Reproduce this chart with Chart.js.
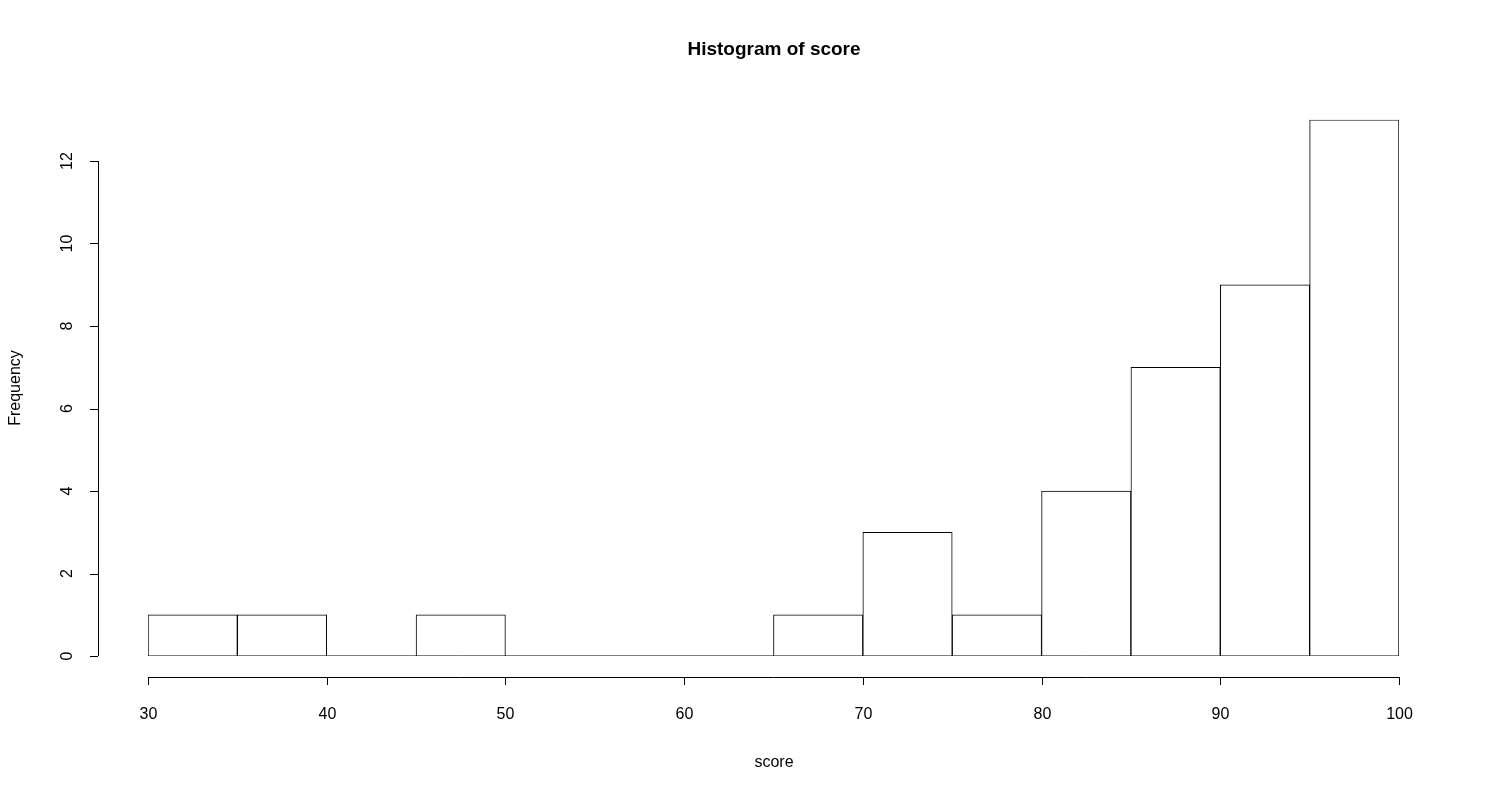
<!DOCTYPE html>
<html>
<head>
<meta charset="utf-8">
<script src="https://cdn.jsdelivr.net/npm/chart.js@4/dist/chart.umd.min.js"></script>
<style>
  body { margin: 0; background: #fff; }
</style>
</head>
<body>
<canvas id="hist" width="1500" height="800"></canvas>
<script>
// histogram data (breaks of 5)
const binStarts = [30, 35, 40, 45, 50, 55, 60, 65, 70, 75, 80, 85, 90, 95];
const counts = [1, 1, 0, 1, 0, 0, 0, 1, 3, 1, 4, 7, 9, 13];
const xTicks = [30, 40, 50, 60, 70, 80, 90, 100];
const yTicks = [0, 2, 4, 6, 8, 10, 12];
const binWidth = 5;

const ctx = document.getElementById('hist').getContext('2d');

// R style detached axes + title, drawn from the chart's own scales
const rAxes = {
    id: 'rAxes',
    afterDraw(chart) {
        const c = chart.ctx;
        const xs = chart.scales.x, ys = chart.scales.y;
        c.save();
        c.strokeStyle = '#000';
        c.fillStyle = '#000';
        c.lineWidth = 1;
        // x axis
        const ax = 677;
        c.beginPath();
        c.moveTo(xs.getPixelForValue(xTicks[0]), ax + 0.5);
        c.lineTo(xs.getPixelForValue(xTicks[xTicks.length - 1]), ax + 0.5);
        c.font = '16px "Liberation Sans", Arial, sans-serif';
        c.textAlign = 'center';
        c.textBaseline = 'top';
        xTicks.forEach(v => {
            const px = Math.round(xs.getPixelForValue(v)) + 0.5;
            c.moveTo(px, ax);
            c.lineTo(px, ax + 8);
            c.fillText(String(v), px, ax + 30);
        });
        c.stroke();
        // y axis
        const ay = 98;
        c.beginPath();
        c.moveTo(ay + 0.5, ys.getPixelForValue(yTicks[0]));
        c.lineTo(ay + 0.5, ys.getPixelForValue(yTicks[yTicks.length - 1]));
        yTicks.forEach(v => {
            const py = Math.round(ys.getPixelForValue(v)) + 0.5;
            c.moveTo(ay, py);
            c.lineTo(ay - 8, py);
        });
        c.stroke();
        yTicks.forEach(v => {
            const py = ys.getPixelForValue(v);
            c.save();
            c.translate(ay - 30, py);
            c.rotate(-Math.PI / 2);
            c.textBaseline = 'middle';
            c.fillText(String(v), 0, 0);
            c.restore();
        });
        // labels
        c.textBaseline = 'middle';
        c.fillText('score', 774, 763);
        c.save();
        c.translate(16, 388);
        c.rotate(-Math.PI / 2);
        c.fillText('Frequency', 0, 0);
        c.restore();
        c.font = 'bold 19px "Liberation Sans", Arial, sans-serif';
        c.fillText('Histogram of score', 774, 50);
        c.restore();
    }
};

new Chart(ctx, {
    type: 'bar',
    data: {
        datasets: [
            {
                data: binStarts.map((b, i) => ({ x: b + binWidth / 2, y: counts[i] })),
                backgroundColor: '#fff',
                borderColor: '#000',
                borderWidth: 1,
                barPercentage: 1,
                categoryPercentage: 1,
                order: 2
            },
            {
                type: 'line',
                data: [{ x: 30, y: 0 }, { x: 100, y: 0 }],
                borderColor: '#000',
                borderWidth: 1,
                pointRadius: 0,
                order: 1
            }
        ]
    },
    options: {
        responsive: false,
        animation: false,
        layout: { padding: { left: 148, right: 101, top: 119.75, bottom: 144 } },
        plugins: { legend: { display: false }, tooltip: { enabled: false } },
        scales: {
            x: { type: 'linear', min: 30, max: 100, display: false, offset: false },
            y: { min: 0, max: 13, display: false }
        }
    },
    plugins: [rAxes]
});
</script>
</body>
</html>
